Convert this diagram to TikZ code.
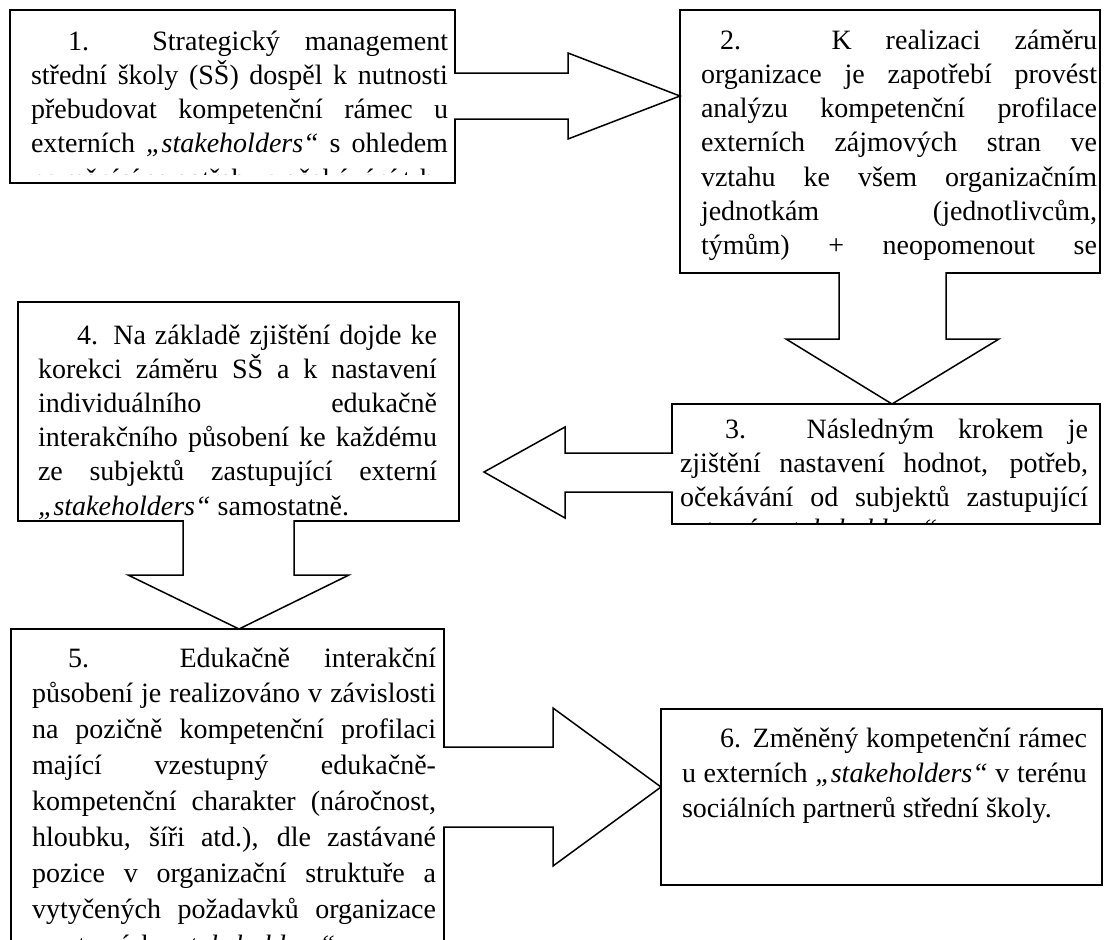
\documentclass[tikz,border=0pt]{standalone}
\usepackage{fontspec}
\setmainfont{Liberation Serif}
% justified line with a first-line indent, and a plain justified line
\newcommand\fl[2]{\hspace*{#1}\makebox[\dimexpr\linewidth-#1\relax][s]{#2}}
\newcommand\jl[1]{\makebox[\linewidth][s]{#1}}
\newcommand\stk{\textit{„stakeholders“}}
\tikzset{
  box/.style={draw, line width=1.5pt, inner sep=0pt, outer sep=0pt, anchor=north west, fill=white},
  txt/.style={inner sep=0pt, outer sep=0pt, anchor=base west},
  bigarrow/.style={draw, fill=white, line width=1.5pt, line join=miter},
}
\begin{document}
\begin{tikzpicture}[x=1pt,y=-1pt]
\useasboundingbox (0,0) rectangle (1104,940);
\clip (0,0) rectangle (1104,940);

% boxes
\node[box, minimum width=445pt, minimum height=173pt] (b1) at (10,10) {};
\node[box, minimum width=420pt, minimum height=263pt] (b2) at (680,10) {};
\node[box, minimum width=428pt, minimum height=120pt] (b3) at (672,404) {};
\node[box, minimum width=441pt, minimum height=219pt] (b4) at (18,302) {};
\node[box, minimum width=433pt, minimum height=360pt] (b5) at (11,629) {};
\node[box, minimum width=441pt, minimum height=176pt] (b6) at (661,709) {};

% box texts, each clipped to its text area
\begin{scope}
\clip (10,10) rectangle (455,174);
\node[txt] (t1) at (31,50) {\parbox[t]{417pt}{\fontsize{28}{34.3}\selectfont
\fl{37pt}{1. Strategický management}\\
\jl{střední školy (SŠ) dospěl k nutnosti}\\
\jl{přebudovat kompetenční rámec u}\\
\jl{externích \stk{} s ohledem}\\[1pt]
\jl{na měnící se potřeby a očekávání trhu}}};
\end{scope}

\begin{scope}
\clip (680,10) rectangle (1100,266);
\node[txt] (t2) at (701,49) {\parbox[t]{396pt}{\fontsize{28}{34.3}\selectfont
\fl{19pt}{2. K realizaci záměru}\\
\jl{organizace je zapotřebí provést}\\
\jl{analýzu kompetenční profilace}\\
\jl{externích zájmových stran ve}\\
\jl{vztahu ke všem organizačním}\\
\jl{jednotkám (jednotlivcům,}\\
\jl{týmům) + neopomenout se}}};
\end{scope}

\begin{scope}
\clip (672,404) rectangle (1100,524);
\node[txt] (t3) at (680,438) {\parbox[t]{408pt}{\fontsize{28}{34}\selectfont
\fl{45pt}{3. Následným krokem je}\\
\jl{zjištění nastavení hodnot, potřeb,}\\
\jl{očekávání od subjektů zastupující}\\[-2pt]
externí \stk.}};
\end{scope}

\begin{scope}
\clip (18,302) rectangle (459,521);
\node[txt] (t4) at (38,344) {\parbox[t]{399pt}{\fontsize{28}{34.2}\selectfont
\fl{39pt}{4. Na základě zjištění dojde ke}\\
\jl{korekci záměru SŠ a k nastavení}\\
\jl{individuálního edukačně}\\
\jl{interakčního působení ke každému}\\
\jl{ze subjektů zastupující externí}\\
\stk{} samostatně.}};
\end{scope}

\begin{scope}
\clip (11,629) rectangle (444,940);
\node[txt] (t5) at (32,667) {\parbox[t]{404pt}{\fontsize{28}{35.9}\selectfont
\fl{36pt}{5. Edukačně interakční}\\
\jl{působení je realizováno v závislosti}\\
\jl{na pozičně kompetenční profilaci}\\
\jl{mající vzestupný edukačně-}\\
\jl{kompetenční charakter (náročnost,}\\
\jl{hloubku, šíři atd.), dle zastávané}\\
\jl{pozice v organizační struktuře a}\\
\jl{vytyčených požadavků organizace}\\
a externích \stk.}};
\end{scope}

\node[txt] (t6) at (682,747) {\parbox[t]{405pt}{\fontsize{28}{35}\selectfont
\fl{38pt}{6. Změněný kompetenční rámec}\\
\jl{u externích \stk{} v terénu}\\
sociálních partnerů střední školy.}};

% block arrows between the boxes
\draw[bigarrow] ([xshift=-1pt]b1.east |- 0,73) -- (568,73) -- (568,53)
  -- (b2.west |- 0,96) -- (568,139) -- (568,119) -- ([xshift=-1pt]b1.east |- 0,119);
\draw[bigarrow] ([yshift=1pt]b2.south -| 839,0) -- (839,339) -- (786,339)
  -- (b3.north -| 892,0) -- (999,339) -- (946,339) -- ([yshift=1pt]b2.south -| 946,0);
\draw[bigarrow] ([xshift=1pt]b3.west |- 0,453) -- (565,453) -- (565,427)
  -- (484,472) -- (565,518) -- (565,492) -- ([xshift=1pt]b3.west |- 0,492);
\draw[bigarrow] ([yshift=1pt]b4.south -| 183,0) -- (183,575) -- (128,575)
  -- (b5.north -| 239,0) -- (349,575) -- (294,575) -- ([yshift=1pt]b4.south -| 294,0);
\draw[bigarrow] ([xshift=-1pt]b5.east |- 0,747) -- (553,747) -- (553,708)
  -- (b6.west |- 0,787) -- (553,866) -- (553,827) -- ([xshift=-1pt]b5.east |- 0,827);
\end{tikzpicture}
\end{document}
